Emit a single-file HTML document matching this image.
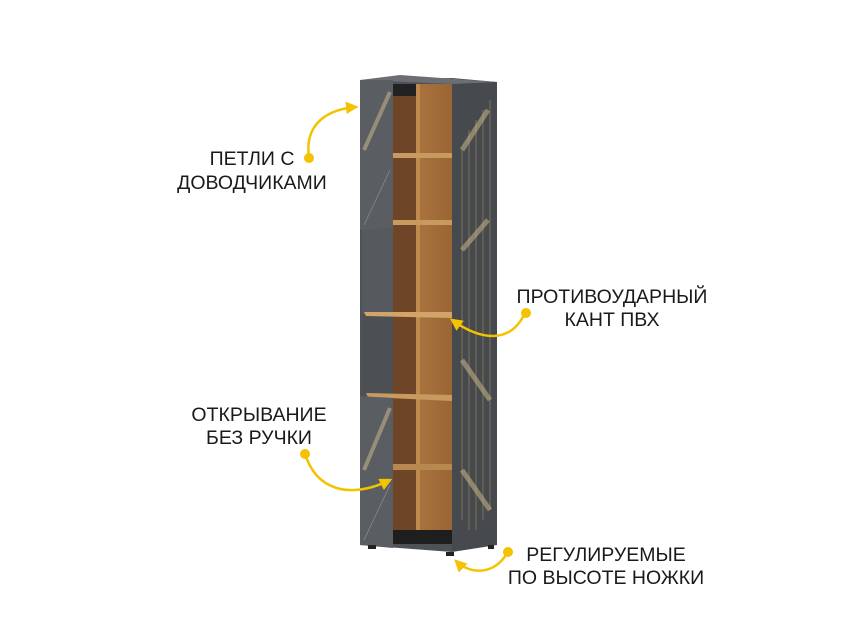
<!DOCTYPE html>
<html><head><meta charset="utf-8"><style>
html,body{margin:0;padding:0;background:#fff;}
svg{display:block}
text{font-family:"Liberation Sans",sans-serif;font-size:19.5px;fill:#1a1a1a;text-anchor:middle}
</style></head><body>
<svg width="841" height="631" viewBox="0 0 841 631" xmlns="http://www.w3.org/2000/svg">
<defs>
<linearGradient id="wood" x1="0" x2="1" y1="0" y2="0">
<stop offset="0" stop-color="#8a5a2e"/><stop offset="0.5" stop-color="#a8713d"/><stop offset="1" stop-color="#9a6534"/>
</linearGradient>
<marker id="ah" viewBox="0 0 10 10" refX="8" refY="5" markerWidth="5" markerHeight="5" orient="auto"><path d="M0,0 L10,5 L0,10 z" fill="#f3c200"/></marker>
</defs>
<polygon points="360,80 452,78 452,552 360,545" fill="#4e5155"/>
<polygon points="452,78 497,82 497,545 452,552" fill="#46494d"/>
<polygon points="360,80 400,75 497,82 452,84" fill="#6b6e72"/>
<g stroke="#8a7a5a" stroke-width="1.2" opacity="0.7">
<line x1="462" y1="150" x2="462" y2="520"/><line x1="469" y1="130" x2="469" y2="530"/>
<line x1="476" y1="120" x2="476" y2="530"/><line x1="483" y1="110" x2="483" y2="520"/>
<line x1="490" y1="100" x2="490" y2="510"/>
</g>
<g stroke="#c9b68a" stroke-width="5" opacity="0.55">
<line x1="488" y1="110" x2="462" y2="150"/><line x1="488" y1="220" x2="462" y2="250"/>
<line x1="462" y1="360" x2="490" y2="400"/><line x1="462" y1="470" x2="490" y2="510"/>
</g>
<rect x="393" y="84" width="59" height="458" fill="url(#wood)"/>
<rect x="393" y="84" width="25" height="458" fill="#6e4526"/>
<rect x="416" y="84" width="4" height="458" fill="#c08a4f"/>
<rect x="393" y="84" width="23" height="12" fill="#222"/>
<rect x="362" y="228" width="31" height="168" fill="#56595d"/>
<rect x="362" y="314" width="31" height="82" fill="#4c4f53"/>
<rect x="393" y="153" width="59" height="5" fill="#c99a60"/>
<rect x="393" y="220" width="59" height="5" fill="#c99a60"/>
<polygon points="364,312 452,312 452,318 366,316" fill="#d2a468"/>
<polygon points="366,393 452,395 452,401 368,397" fill="#c99a60"/>
<rect x="393" y="464" width="59" height="6" fill="#b88850"/>
<rect x="393" y="530" width="59" height="14" fill="#1e1e1e"/>
<polygon points="360,80 393,80 393,228 360,230" fill="#5a5d61"/>
<polygon points="360,396 393,398 393,548 360,545" fill="#5a5d61"/>
<g stroke="#c9b68a" stroke-width="4" opacity="0.55">
<line x1="390" y1="92" x2="364" y2="150"/><line x1="390" y1="408" x2="364" y2="470"/>
</g>
<g stroke="#888" stroke-width="0.8">
<line x1="390" y1="170" x2="364" y2="225"/><line x1="390" y1="485" x2="364" y2="540"/>
</g>
<rect x="368" y="545" width="8" height="4" fill="#222"/><rect x="446" y="552" width="8" height="4" fill="#222"/><rect x="488" y="545" width="6" height="4" fill="#222"/>
<g stroke="#f3c200" stroke-width="2.5" fill="none" marker-end="url(#ah)">
<path d="M309,157 C305,130 320,110 356,107"/>
<path d="M525,313 C510,345 480,340 452,320"/>
<path d="M305,453 C315,490 350,500 390,480"/>
<path d="M507,553 C495,575 470,575 456,561"/>
</g>
<g fill="#f3c200">
<circle cx="309" cy="158" r="5"/><circle cx="526" cy="313" r="5"/><circle cx="305" cy="454" r="5"/><circle cx="508" cy="552" r="5"/>
</g>
<text x="252" y="165">ПЕТЛИ С</text>
<text x="252" y="189">ДОВОДЧИКАМИ</text>
<text x="612" y="303">ПРОТИВОУДАРНЫЙ</text>
<text x="612" y="326">КАНТ ПВХ</text>
<text x="259" y="421">ОТКРЫВАНИЕ</text>
<text x="259" y="444">БЕЗ РУЧКИ</text>
<text x="606" y="561">РЕГУЛИРУЕМЫЕ</text>
<text x="606" y="584">ПО ВЫСОТЕ НОЖКИ</text>
</svg>
</body></html>
